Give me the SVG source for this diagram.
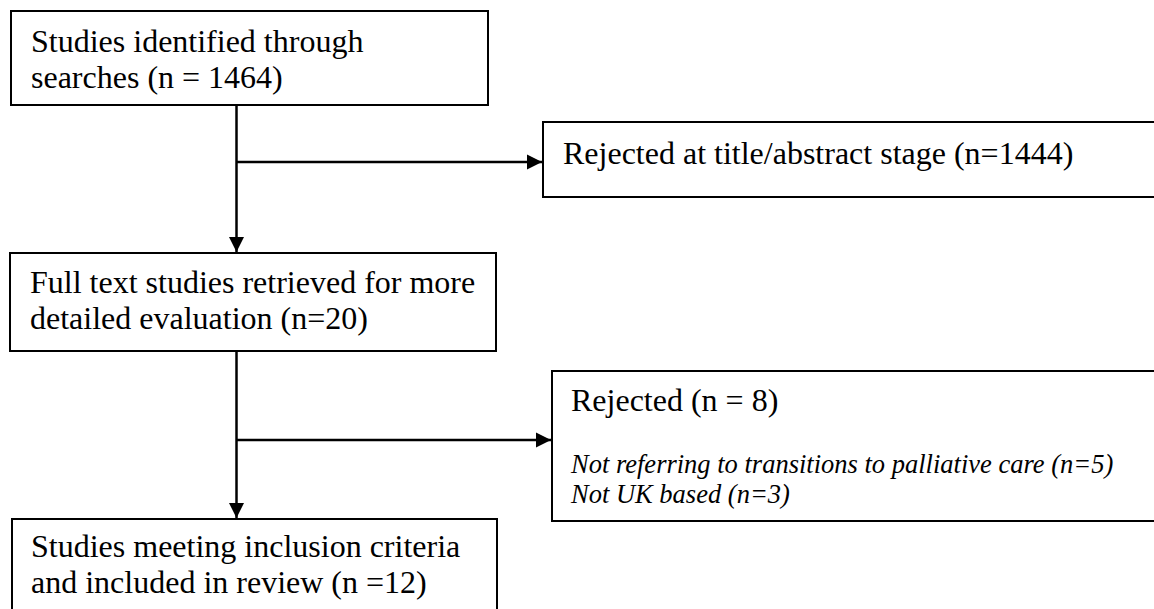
<svg xmlns="http://www.w3.org/2000/svg" width="1154" height="609" viewBox="0 0 1154 609">
<defs>
<style>
.box{fill:#fff;stroke:#000;stroke-width:2}
.t{font-family:"Liberation Serif","Times New Roman",serif;font-size:32px;fill:#000}
.i{font-family:"Liberation Serif","Times New Roman",serif;font-size:26.5px;font-style:italic;fill:#000}
.c{fill:none;stroke:#000;stroke-width:2.5}
</style>
<marker id="ah" markerUnits="userSpaceOnUse" markerWidth="16" markerHeight="16" viewBox="0 0 16 16" refX="15" refY="8" orient="auto">
<path d="M0,0.5 L15,8 L0,15.5 Z" fill="#000"/>
</marker>
</defs>
<rect width="1154" height="609" fill="#fff"/>
<g id="connectors">
<path class="c" d="M236.5,105 V252" marker-end="url(#ah)"/>
<path class="c" d="M236.5,162 H542" marker-end="url(#ah)"/>
<path class="c" d="M236.5,351 V518" marker-end="url(#ah)"/>
<path class="c" d="M236.5,440 H551" marker-end="url(#ah)"/>
</g>
<g id="identified">
<rect class="box" x="11" y="11" width="477" height="94"/>
<text class="t" x="31" y="52">Studies identified through</text>
<text class="t" x="31" y="88">searches (n = 1464)</text>
</g>
<g id="rejected-title">
<rect class="box" x="543" y="122" width="640" height="75"/>
<text class="t" x="563" y="164">Rejected at title/abstract stage (n=1444)</text>
</g>
<g id="fulltext">
<rect class="box" x="10" y="253" width="486" height="98"/>
<text class="t" x="30" y="293">Full text studies retrieved for more</text>
<text class="t" x="30" y="329">detailed evaluation (n=20)</text>
</g>
<g id="rejected-full">
<rect class="box" x="552" y="371" width="640" height="150"/>
<text class="t" x="571" y="411">Rejected (n = 8)</text>
<text class="i" x="571" y="473">Not referring to transitions to palliative care (n=5)</text>
<text class="i" x="571" y="503">Not UK based (n=3)</text>
</g>
<g id="included">
<rect class="box" x="12" y="519" width="485" height="110"/>
<text class="t" x="31" y="557">Studies meeting inclusion criteria</text>
<text class="t" x="31" y="593">and included in review (n =12)</text>
</g>
</svg>
